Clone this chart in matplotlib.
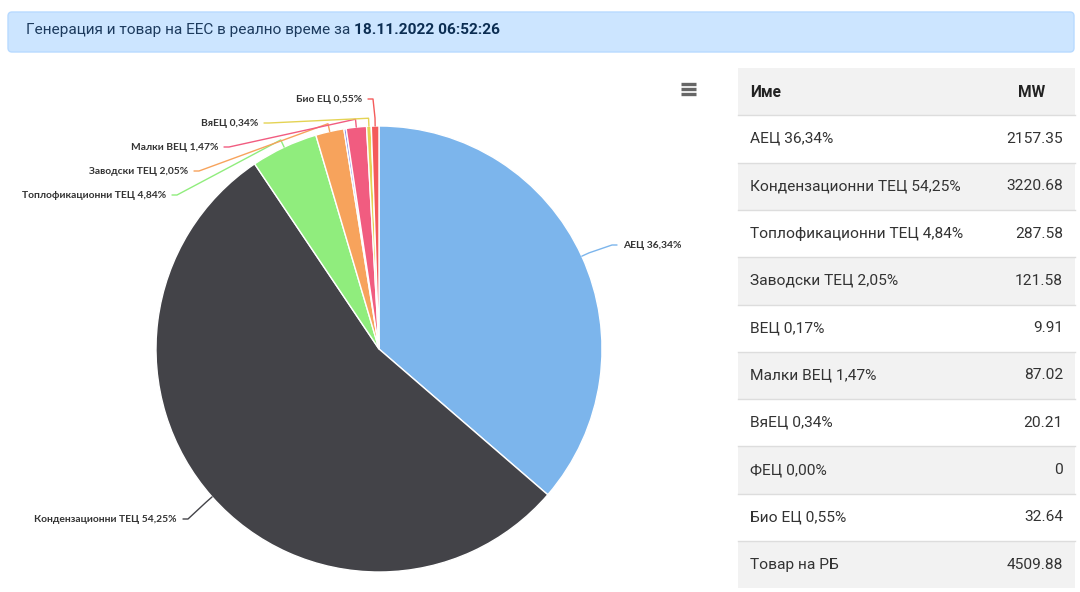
import matplotlib
matplotlib.use("Agg")
import matplotlib.pyplot as plt
from matplotlib.patches import Rectangle, FancyBboxPatch
import numpy as np

# ---------------- data ----------------
names = ["АЕЦ 36,34%", "Кондензационни ТЕЦ 54,25%", "Топлофикационни ТЕЦ 4,84%",
         "Заводски ТЕЦ 2,05%", "ВЕЦ 0,17%", "Малки ВЕЦ 1,47%", "ВяЕЦ 0,34%",
         "ФЕЦ 0,00%", "Био ЕЦ 0,55%"]
mw = [2157.35, 3220.68, 287.58, 121.58, 9.91, 87.02, 20.21, 0, 32.64]
mw_text = ["2157.35", "3220.68", "287.58", "121.58", "9.91", "87.02", "20.21", "0", "32.64"]
total_name = "Товар на РБ"
total_text = "4509.88"
colors = ["#7cb5ec", "#434348", "#90ed7d", "#f7a35c", "#8085e9",
          "#f15c80", "#e4d354", "#2b908f", "#f45b5b"]
title_normal = "Генерация и товар на ЕЕС в реално време за "
title_bold = "18.11.2022 06:52:26"

# label layout (pixel positions of label text; None = hidden)
label_pos = [(623, 245, "left"), (177, 519, "right"), (166, 195, "right"),
             (188, 171, "right"), None, (218, 147, "right"), (258, 123, "right"),
             None, (362, 99, "right")]

W, H = 1080, 592
fig = plt.figure(figsize=(W / 100, H / 100), dpi=100)
fig.patch.set_facecolor("white")
ax = fig.add_axes([0, 0, 1, 1])

cx, cy, R = 379, 349, 223
wedges, _ = ax.pie(mw, colors=colors, startangle=-90, counterclock=True,
                   center=(cx, cy), radius=R,
                   wedgeprops=dict(edgecolor="white", linewidth=1))
ax.set_xlim(0, W)
ax.set_ylim(H, 0)
ax.set_aspect("auto")
ax.axis("off")

label_font = dict(family="Lato", fontsize=7.4, fontweight="bold", color="#333333")
for w, name, col, lp in zip(wedges, names, colors, label_pos):
    if lp is None:
        continue
    mid = np.deg2rad((w.theta1 + w.theta2) / 2)
    ex, ey = cx + R * np.cos(mid), cy + R * np.sin(mid)
    ox, oy = cx + (R + 8) * np.cos(mid), cy + (R + 8) * np.sin(mid)
    tx, ty, ha = lp
    if ha == "right":
        sx = tx + 6
        kx = sx + 5
    else:
        sx = tx - 6
        kx = sx - 5
    ax.plot([sx, kx, ox, ex], [ty, ty, oy, ey], color=col, lw=1, solid_capstyle="round")
    ax.text(tx, ty, name, ha=ha, va="center", **label_font)

# ---------------- banner ----------------
banner = FancyBboxPatch((8, 12), 1066, 40, boxstyle="round,pad=0,rounding_size=4",
                        facecolor="#cce5ff", edgecolor="#b8daff", lw=1)
ax.add_patch(banner)
t1 = ax.text(26, 30, title_normal, ha="left", va="center", family="Roboto",
             fontsize=11.1, color="#1d3b5e")
fig.canvas.draw()
r = fig.canvas.get_renderer()
bb = t1.get_window_extent(renderer=r)
x_end = ax.transData.inverted().transform((bb.x1, bb.y0))[0]
ax.text(x_end, 30, title_bold, ha="left", va="center", family="Roboto",
        fontsize=11.1, fontweight="bold", color="#0b2d52")

# ---------------- menu icon ----------------
for yy in (84, 89, 94):
    ax.plot([681, 696], [yy, yy], color="#666666", lw=2.4, solid_capstyle="butt")

# ---------------- table ----------------
tx0, tx1 = 738, 1075
top = 68
rh = 47.3
rows = [("Име", "MW")] + list(zip(names, mw_text)) + [(total_name, total_text)]
for i, (nm, val) in enumerate(rows):
    y0 = top + i * rh
    fc = "#f2f2f2" if i % 2 == 0 else "white"
    ax.add_patch(Rectangle((tx0, y0), tx1 - tx0, rh, facecolor=fc, edgecolor="none"))
    if i > 0:
        ax.plot([tx0, tx1], [y0, y0], color="#dddddd", lw=1)
    yc = y0 + rh / 2
    if i == 0:
        ax.text(750, yc + 1, nm, ha="left", va="center", family="Roboto", fontsize=11.2,
                fontweight="bold", color="#222222")
        ax.text(1045, yc + 1, val, ha="right", va="center", family="Roboto", fontsize=11.2,
                fontweight="bold", color="#222222")
    else:
        ax.text(750, yc, nm, ha="left", va="center", family="Roboto", fontsize=11.15,
                color="#333333")
        ax.text(1063, yc, val, ha="right", va="center", family="Roboto", fontsize=11.15,
                color="#333333")

fig.savefig("out.png", dpi=100, facecolor="white")
